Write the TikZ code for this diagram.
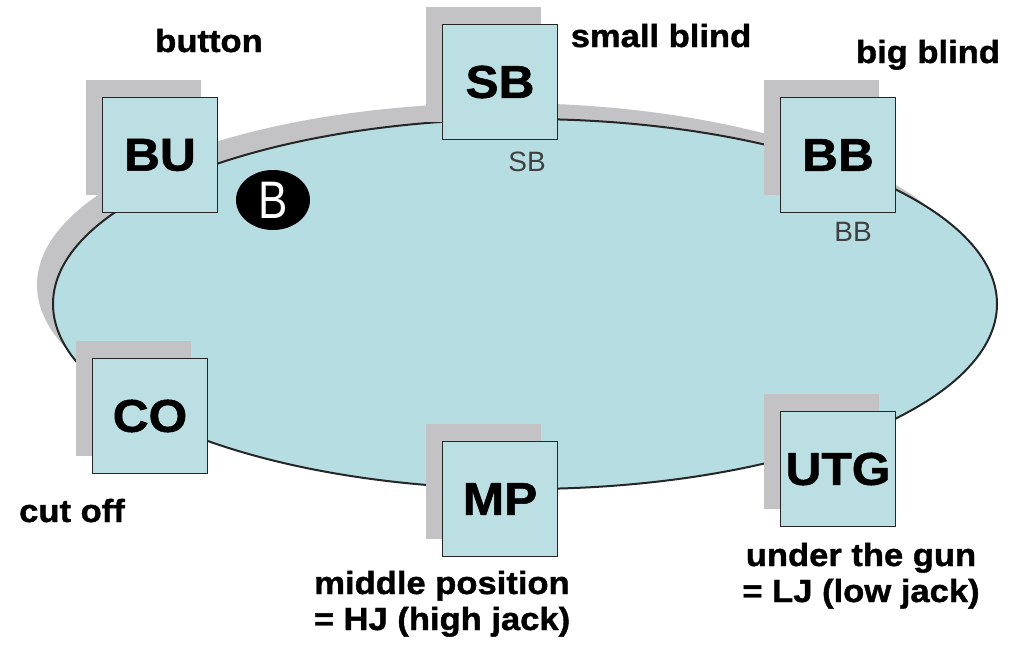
\documentclass[tikz,border=0pt]{standalone}
\usepackage{fontspec}
\usepackage{tikz}
\usetikzlibrary{shadows}
\usetikzlibrary{shapes.geometric}
\setsansfont{Liberation Sans}
\newfontfamily\heavyfont[FakeStretch=1.08,FakeBold=1.2]{Liberation Sans Bold}
\definecolor{tableblue}{HTML}{B5DDE2}
\definecolor{seatblue}{HTML}{BCDFE4}
\definecolor{shadowgrey}{HTML}{C3C2C4}

\tikzset{
  seat/.style={draw=black!85, line width=1.8pt, fill=seatblue, minimum size=115pt, inner sep=0pt,
    font=\heavyfont\fontsize{46}{46}\selectfont,
    drop shadow={shadow xshift=-17pt, shadow yshift=18pt, fill=shadowgrey, opacity=1, draw=none}},
  role/.style={font=\heavyfont\fontsize{32}{36}\selectfont, anchor=base, align=center, inner sep=0pt},
  tag/.style={font=\sffamily\fontsize{28}{28}\selectfont, text=black!75, inner sep=0pt},
  chip/.style={ellipse, fill=black, text=white, minimum width=74pt, minimum height=60pt, inner sep=0pt,
    font=\sffamily\fontsize{44}{44}\selectfont},
}

\begin{document}
\begin{tikzpicture}[x=1pt, y=-1pt]
  \useasboundingbox (0,0) rectangle (1017,653);
  % table and its shadow
  \fill[shadowgrey] (505,285) ellipse [x radius=468, y radius=182];
  \draw[line width=2pt, draw=black!85, fill=tableblue] (525,304) ellipse [x radius=472, y radius=185];
  % seats
  \foreach \pos/\x/\y in {BU/160/155, SB/500/82, BB/838/155, CO/150/416, MP/500/499, UTG/838/469}
    \node[seat] (\pos) at (\x,\y) {\pos};
  % dealer button and blinds on the table
  \node[chip] (dealer) at (273,200) {\scalebox{1}[1.2]{B}};
  \node[tag] (SB tag) at (527,162) {SB};
  \node[tag] (BB tag) at (853,232) {BB};
  % names of the positions
  \node[role] (BU name) at (209,52) {button};
  \node[role] (SB name) at (661,47) {small blind};
  \node[role] (BB name) at (928,63) {big blind};
  \node[role] (CO name) at (72,522) {cut off};
  \node[role] (MP name) at (442,630) {middle position\\= HJ (high jack)};
  \node[role] (UTG name) at (861,602) {under the gun\\= LJ (low jack)};
\end{tikzpicture}
\end{document}
